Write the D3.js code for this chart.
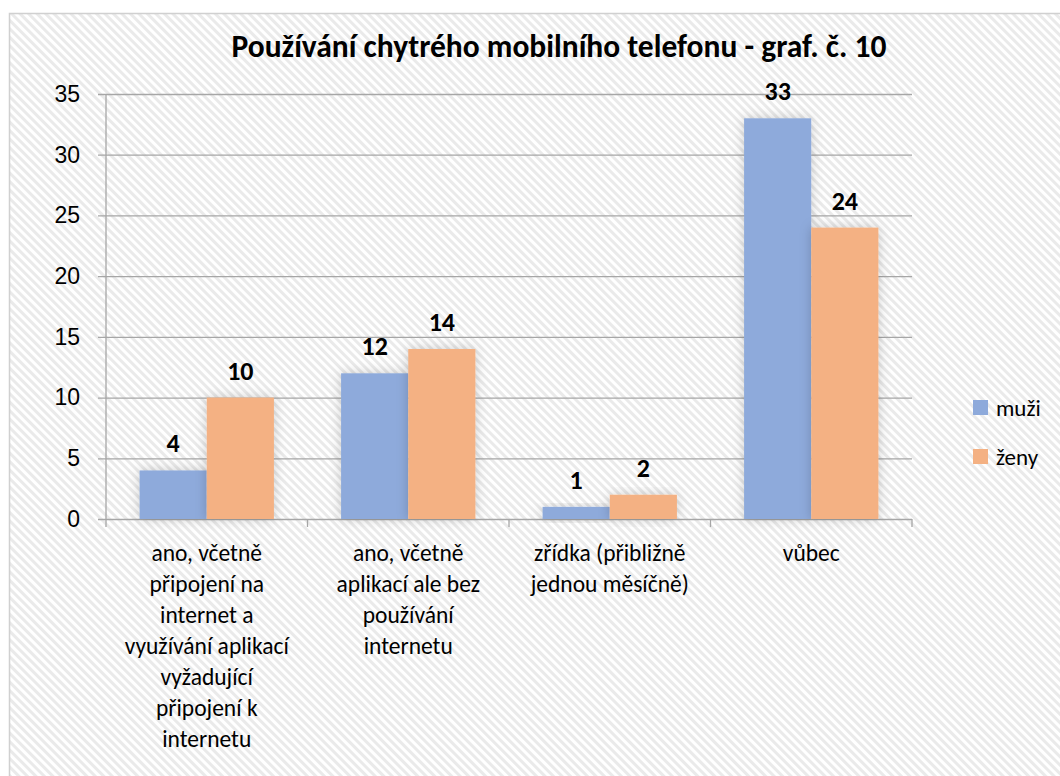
<!DOCTYPE html>
<html>
<head>
<meta charset="utf-8">
<script src="https://cdn.jsdelivr.net/npm/d3@7"></script>
<style>
  body { margin: 0; background: #fff; }
  svg { display: block; font-family: Carlito, Calibri, Lato, "Open Sans", sans-serif; }
</style>
</head>
<body>
<svg id="chart" width="1060" height="776"></svg>
<script>
// data
var categories = [
    ["ano, včetně", "připojení na", "internet a", "využívání aplikací", "vyžadující", "připojení k", "internetu"],
    ["ano, včetně", "aplikací ale bez", "používání", "internetu"],
    ["zřídka (přibližně", "jednou měsíčně)"],
    ["vůbec"]
];
var seriesNames = ["muži", "ženy"];
var muzi = [4, 12, 1, 33];
var zeny = [10, 14, 2, 24];
var yTicks = [0, 5, 10, 15, 20, 25, 30, 35];
var colors = ["#8eaadb", "#f4b183"];

var svg = d3.select("#chart");
var width = 1060, height = 776;
var margin = { left: 106, right: 148, top: 94, bottom: 257 };

var defs = svg.append("defs");
var pat = defs.append("pattern")
    .attr("id", "hatch")
    .attr("patternUnits", "userSpaceOnUse")
    .attr("width", 6).attr("height", 6)
    .attr("patternTransform", "rotate(45)");
pat.append("rect").attr("width", 6).attr("height", 6).attr("fill", "#fff");
pat.append("rect").attr("width", 6).attr("height", 3).attr("fill", "#eaeaea");

var shadow = defs.append("filter").attr("id", "shadow")
    .attr("x", "-30%").attr("y", "-30%").attr("width", "160%").attr("height", "160%");
shadow.append("feDropShadow")
    .attr("dx", 0).attr("dy", 0).attr("stdDeviation", 6)
    .attr("flood-color", "#000").attr("flood-opacity", 0.2);

// background panel
svg.append("rect")
    .attr("x", 9.5).attr("y", 13.5)
    .attr("width", width).attr("height", height)
    .attr("fill", "url(#hatch)")
    .attr("stroke", "#d0d0d0").attr("stroke-width", 1.5);

var x0 = d3.scaleBand()
    .domain(d3.range(categories.length))
    .range([margin.left, width - margin.right])
    .paddingInner(1 / 3).paddingOuter(1 / 6);
var x1 = d3.scaleBand()
    .domain(d3.range(seriesNames.length))
    .range([0, x0.bandwidth()]);
var y = d3.scaleLinear()
    .domain([0, 35])
    .range([height - margin.bottom, margin.top]);

// gridlines + y axis labels
var yAxis = svg.append("g")
    .attr("transform", "translate(" + margin.left + ",0)")
    .call(d3.axisLeft(y).tickValues(yTicks)
        .tickSize(-(width - margin.left - margin.right)).tickPadding(26));
yAxis.select(".domain").remove();
yAxis.selectAll(".tick line")
    .attr("stroke", "#a6a6a6").attr("stroke-width", 1.3)
    .attr("x1", -8);
yAxis.selectAll(".tick text")
    .attr("font-size", 23).attr("fill", "#000")
    .attr("font-family", "inherit");

// vertical axis line
svg.append("line")
    .attr("x1", margin.left).attr("x2", margin.left)
    .attr("y1", y(35)).attr("y2", y(0))
    .attr("stroke", "#a6a6a6").attr("stroke-width", 1.3);

// category ticks
var step = x0.step();
var catTicks = d3.range(categories.length + 1).map(function (i) { return margin.left + i * step; });
svg.append("g").selectAll("line")
    .data(catTicks).enter().append("line")
    .attr("x1", function (d) { return d; }).attr("x2", function (d) { return d; })
    .attr("y1", y(0)).attr("y2", y(0) + 8)
    .attr("stroke", "#a6a6a6").attr("stroke-width", 1.3);

// bars
var series = [muzi, zeny];
var groups = svg.append("g").selectAll("g")
    .data(categories).enter().append("g")
    .attr("transform", function (d, i) { return "translate(" + x0(i) + ",0)"; });

groups.selectAll("rect")
    .data(function (d, i) { return series.map(function (s, j) { return { s: j, v: s[i] }; }); })
    .enter().append("rect")
    .attr("x", function (d) { return x1(d.s); })
    .attr("y", function (d) { return y(d.v); })
    .attr("width", x1.bandwidth())
    .attr("height", function (d) { return y(0) - y(d.v); })
    .attr("fill", function (d) { return colors[d.s]; })
    .attr("filter", "url(#shadow)");

groups.selectAll("text.val")
    .data(function (d, i) { return series.map(function (s, j) { return { s: j, v: s[i] }; }); })
    .enter().append("text")
    .attr("class", "val")
    .attr("x", function (d) { return x1(d.s) + x1.bandwidth() / 2; })
    .attr("y", function (d) { return y(d.v) - 18; })
    .attr("text-anchor", "middle")
    .attr("font-size", 26).attr("font-weight", "bold")
    .text(function (d) { return d.v; });

// category labels
groups.each(function (lines) {
    var t = d3.select(this).append("text")
        .attr("text-anchor", "middle")
        .attr("font-size", 23.5);
    t.selectAll("tspan").data(lines).enter().append("tspan")
        .attr("x", x0.bandwidth() / 2)
        .attr("y", function (d, k) { return y(0) + 42 + k * 31; })
        .text(function (d) { return d; });
});

// title
svg.append("text")
    .attr("x", 559).attr("y", 57)
    .attr("text-anchor", "middle")
    .attr("font-size", 31.5).attr("font-weight", "bold")
    .text("Používání chytrého mobilního telefonu - graf. č. 10");

// legend
var legend = svg.append("g").selectAll("g")
    .data(seriesNames).enter().append("g")
    .attr("transform", function (d, i) { return "translate(973," + (400 + i * 49) + ")"; });
legend.append("rect").attr("width", 15).attr("height", 15)
    .attr("fill", function (d, i) { return colors[i]; });
legend.append("text").attr("x", 23).attr("y", 16)
    .attr("font-size", 23).text(function (d) { return d; });
</script>
</body>
</html>
